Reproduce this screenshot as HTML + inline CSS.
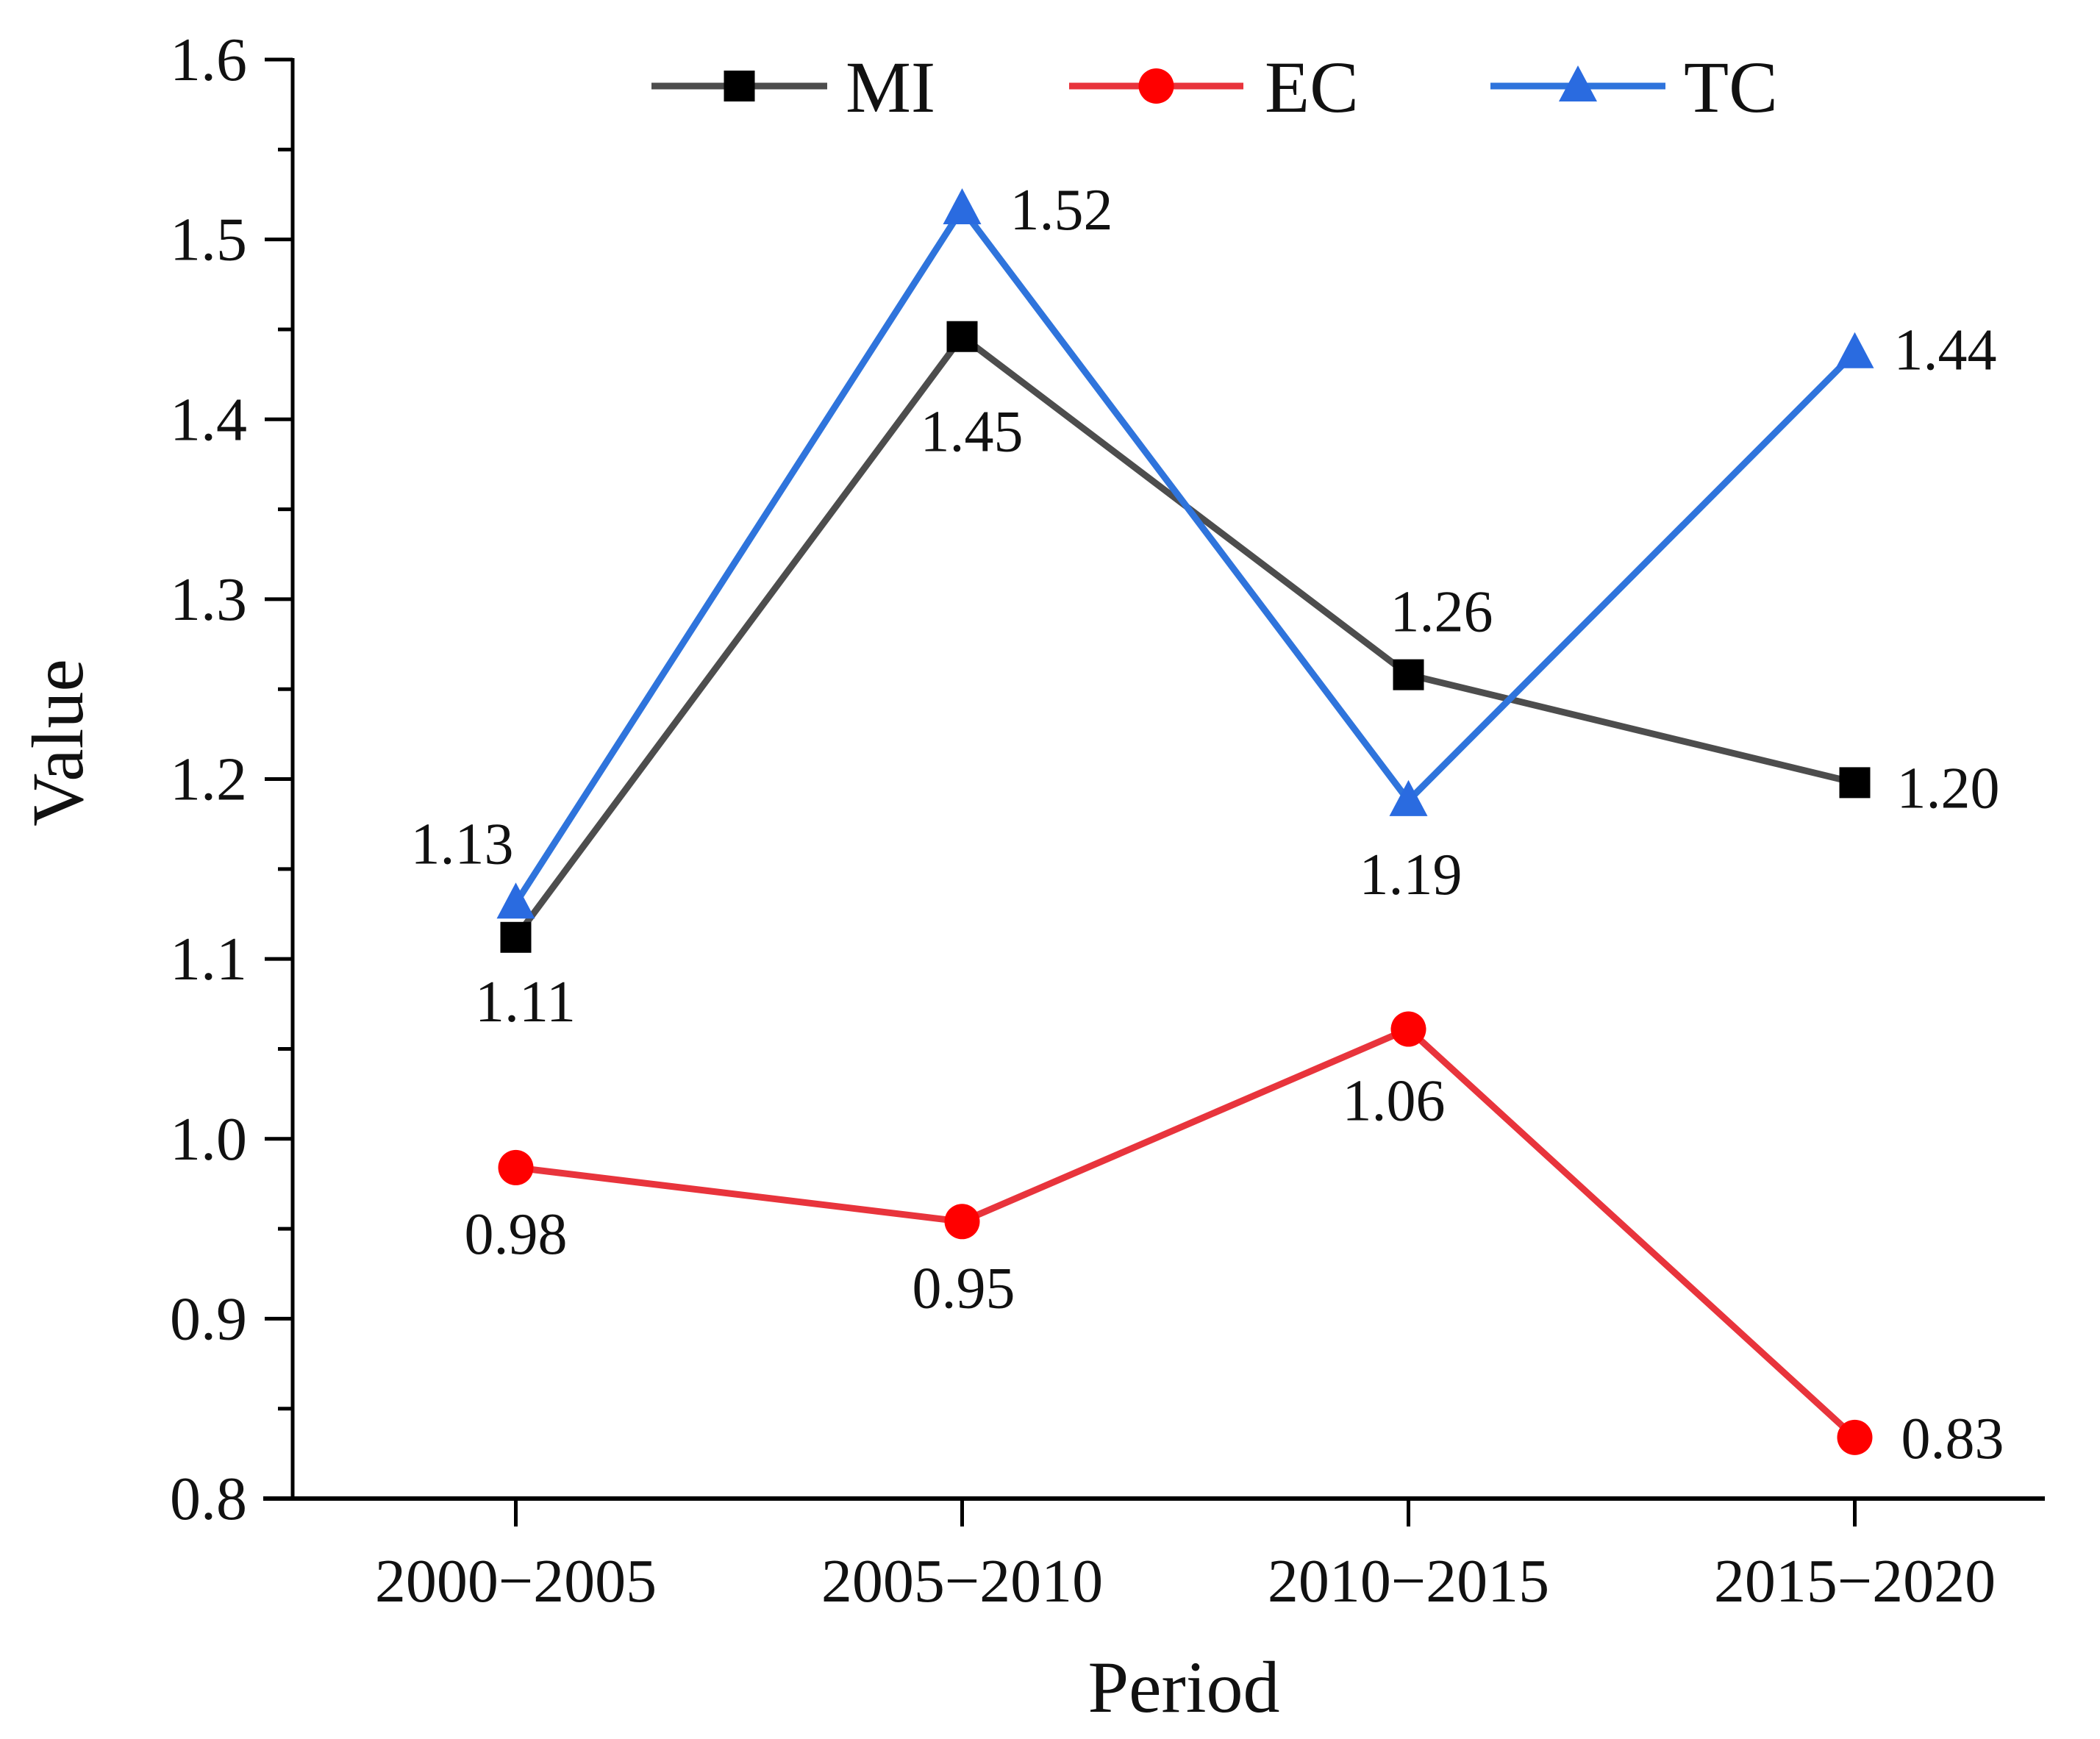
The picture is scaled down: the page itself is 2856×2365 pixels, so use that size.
<!DOCTYPE html>
<html><head><meta charset="utf-8"><style>
html,body{margin:0;padding:0;background:#fff;}
svg{display:block;font-family:"Liberation Serif",serif;}
</style></head><body>
<svg id="chart" width="2856" height="2365" viewBox="0 0 2856 2365"></svg>
<script>
const categories = ["2000\u22122005","2005\u22122010","2010\u22122015","2015\u22122020"];
const miValues = [1.112, 1.446, 1.258, 1.198];
const ecValues = [0.984, 0.954, 1.061, 0.834];
const tcValues = [1.131, 1.517, 1.188, 1.437];
const miLabels = ["1.11","1.45","1.26","1.20"];
const ecLabels = ["0.98","0.95","1.06","0.83"];
const tcLabels = ["1.13","1.52","1.19","1.44"];
const yTicks = [0.8,0.9,1.0,1.1,1.2,1.3,1.4,1.5,1.6];
const yTickLabels = ["0.8","0.9","1.0","1.1","1.2","1.3","1.4","1.5","1.6"];

const NS="http://www.w3.org/2000/svg";
const svg=document.getElementById('chart');
const X0=398, X1=2826, XEND=2781, Y0=2038, Y1=81, VMIN=0.8, VMAX=1.6;
function xs(i){return X0+(X1-X0)*(i+0.5)/categories.length;}
function ys(v){return Y0-(v-VMIN)/(VMAX-VMIN)*(Y0-Y1);}
function mk(tag,attrs,parent){const e=document.createElementNS(NS,tag);for(const k in attrs)e.setAttribute(k,attrs[k]);(parent||svg).appendChild(e);return e;}

const axes=mk('g',{});


const yl=mk('line',{x1:X0,y1:Y1-2,x2:X0,y2:Y0+3,stroke:'#000','stroke-width':5},axes);


const xl=mk('line',{x1:X0-40,y1:Y0,x2:XEND,y2:Y0,stroke:'#000','stroke-width':6},axes);


yTicks.forEach((v,i)=>{
  const t=mk('line',{x1:X0-38,y1:ys(v),x2:X0,y2:ys(v),stroke:'#000','stroke-width':5},axes);
  
  
  if(i<yTicks.length-1){
    const m=mk('line',{x1:X0-20,y1:ys(v+0.05),x2:X0,y2:ys(v+0.05),stroke:'#000','stroke-width':5},axes);
    
    
  }
  const tx=mk('text',{x:X0-62,y:ys(v)+28,'font-size':84,'text-anchor':'end',fill:'#111'},axes);
  tx.textContent=yTickLabels[i];
  
  
});
categories.forEach((c,i)=>{
  const t=mk('line',{x1:xs(i),y1:Y0,x2:xs(i),y2:Y0+38,stroke:'#000','stroke-width':5},axes);
  
  
  const tx=mk('text',{x:xs(i),y:Y0+140,'font-size':84,'text-anchor':'middle',fill:'#111'},axes);
  tx.textContent=c;
  
  
});
const xt=mk('text',{x:1610,y:2328,'font-size':100,'text-anchor':'middle',fill:'#111'});
xt.textContent='Period';


const yt=mk('text',{x:0,y:0,'font-size':100,'text-anchor':'middle',fill:'#111',transform:'translate(112,1010) rotate(-90)'});
yt.textContent='Value';



function marker(type,x,y,color,g){
  let e;
  if(type==='sq') e=mk('rect',{x:x-21,y:y-21,width:42,height:42,fill:color},g);
  else if(type==='ci') e=mk('circle',{cx:x,cy:y,r:24,fill:color},g);
  else e=mk('polygon',{points:`${x},${y-28} ${x-26},${y+21} ${x+26},${y+21}`,fill:color},g);
  return e;
}
function series(name,vals,labels,lineColor,mColor,type,offs){
  const g=mk('g',{});
  
  
  const p=mk('polyline',{points:vals.map((v,i)=>xs(i)+','+ys(v)).join(' '),fill:'none',stroke:lineColor,'stroke-width':9,'stroke-linejoin':'miter'},g);
  
  
  vals.forEach((v,i)=>{
    const m=marker(type,xs(i),ys(v),mColor,g);
    
    
  });
  vals.forEach((v,i)=>{
    const t=mk('text',{x:xs(i)+offs[i][0],y:ys(v)+offs[i][1]+28,'font-size':80,'text-anchor':'middle',fill:'#111'},g);
    t.textContent=labels[i];
    
    
  });
}
series('ec',ecValues,ecLabels,'#e8343c','#ff0000','ci',[[0,89],[2,89],[-20,96],[133,0]]);
series('mi',miValues,miLabels,'#4d4d4d','#000','sq',[[13,86],[13,128],[45,-87],[127,6]]);
series('tc',tcValues,tcLabels,'#2f74dc','#2a6be0','tr',[[-73,-82],[135,0],[3,99],[123,-5]]);

const lg=mk('g',{});


const leg=[['MI',886,1125,1150,'#4d4d4d','#000','sq'],['EC',1454,1691,1720,'#e8343c','#ff0000','ci'],['TC',2027,2265,2290,'#2f74dc','#2a6be0','tr']];
leg.forEach(l=>{
  const e=mk('g',{},lg);
  
  
  mk('line',{x1:l[1],y1:117,x2:l[2],y2:117,stroke:l[4],'stroke-width':9},e);
  marker(l[6],(l[1]+l[2])/2,117,l[5],e);
  const t=mk('text',{x:l[3],y:152,'font-size':100,fill:'#111'},e);
  t.textContent=l[0];
});
</script>
</body></html>
